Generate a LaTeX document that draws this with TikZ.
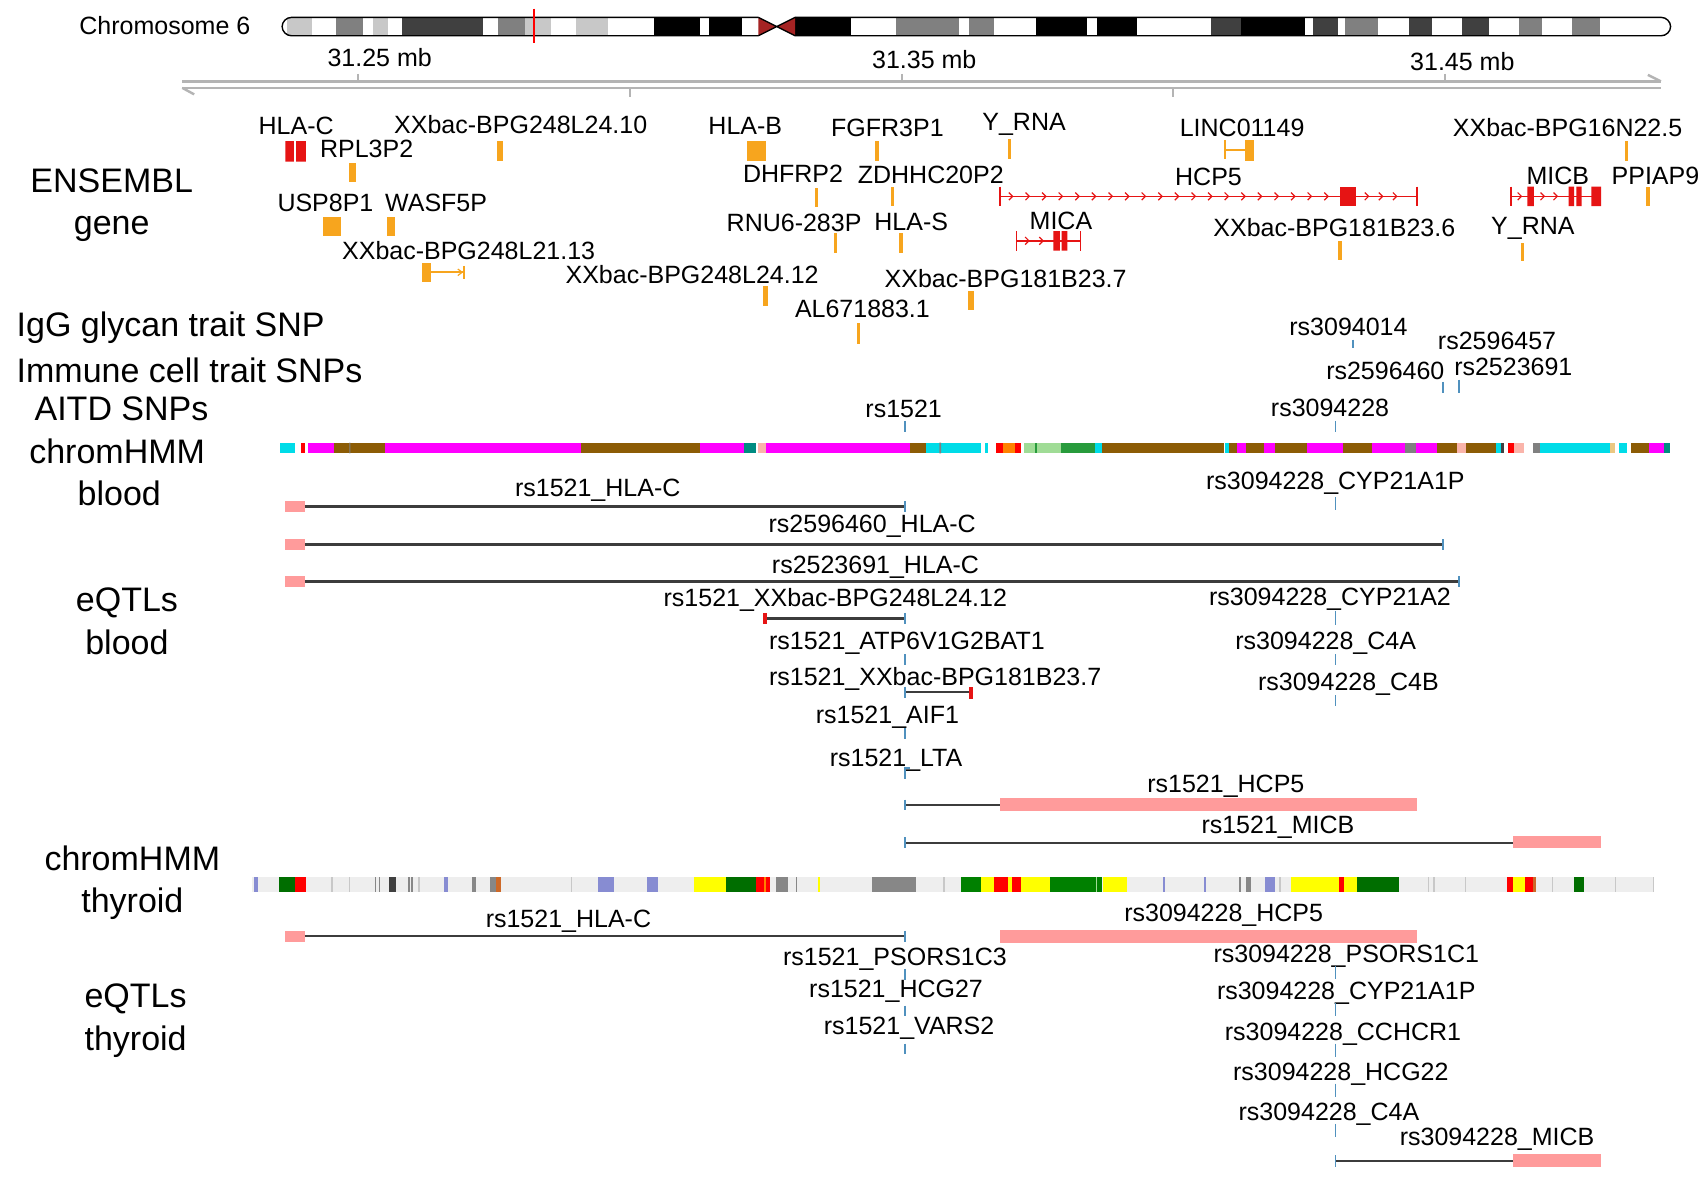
\documentclass[tikz,border=0pt]{standalone}
\usepackage{fontspec}
\setmainfont{Liberation Sans}
\definecolor{lgy}{RGB}{200,200,200}
\definecolor{mgy}{RGB}{128,128,128}
\definecolor{dgy}{RGB}{64,64,64}
\definecolor{cen}{RGB}{165,35,35}
\definecolor{axg}{RGB}{180,180,180}
\definecolor{ora}{RGB}{247,165,30}
\definecolor{rg}{RGB}{230,20,20}
\definecolor{pnk}{RGB}{255,155,155}
\definecolor{snpb}{RGB}{80,145,190}
\definecolor{eql}{RGB}{60,60,60}
\definecolor{cy}{RGB}{0,220,232}
\definecolor{mg}{RGB}{255,0,255}
\definecolor{br}{RGB}{140,92,5}
\definecolor{tl}{RGB}{0,140,130}
\definecolor{lgn}{RGB}{160,220,150}
\definecolor{gn}{RGB}{40,155,60}
\definecolor{orn}{RGB}{255,130,0}
\definecolor{pkl}{RGB}{250,180,170}
\definecolor{tan}{RGB}{235,200,130}
\definecolor{thbg}{RGB}{238,238,238}
\definecolor{pu}{RGB}{135,140,210}
\definecolor{dgn}{RGB}{0,110,0}
\definecolor{gnt}{RGB}{0,128,0}
\definecolor{ye}{RGB}{255,255,0}
\definecolor{gyt}{RGB}{135,135,135}
\definecolor{obr}{RGB}{205,105,40}
\definecolor{rdc}{RGB}{255,0,0}
\begin{document}
\begin{tikzpicture}[x=0.5424pt,y=-0.5424pt,
  lab/.style={font=\fontsize{12.5}{14}\selectfont, inner sep=0pt, text height=8.95pt, text depth=0pt},
  big/.style={font=\fontsize{17}{19}\selectfont, inner sep=0pt, anchor=base},
  snp/.style={draw=snpb, line width=0.8pt},
  eqline/.style={draw=eql, line width=1.2pt},
  rgl/.style={draw=rg, line width=0.8pt},
  chev/.style={draw=rg, line width=0.6pt}]
\useasboundingbox (0,0) rectangle (1568,1091);
\fill[white] (0,0) rectangle (1568,1091);

% ---------- chromosome ideogram ----------
\node[lab] (chr) at (152,24) {Chromosome 6};
\begin{scope}
\clip[rounded corners=4.8pt] (260,16) rectangle (1540,33);
\foreach \a/\b/\c in {265/288/lgy, 310/335/mgy, 344/358/lgy, 371/445/dgy, 459/484/mgy, 484/508/lgy, 531/560/lgy, 603/645/black, 654/684/black, 733/784/black, 826/884/mgy, 893/916/mgy, 955/1002/black, 1011/1048/black, 1116/1144/dgy, 1144/1203/black, 1210/1233/dgy, 1240/1270/mgy, 1299/1320/dgy, 1348/1373/dgy, 1400/1421/mgy, 1449/1475/mgy}
  \fill[\c] (\a,16) rectangle (\b,33);
\end{scope}
\fill[cen] (699,16) -- (716,24.5) -- (699,33) -- cycle;
\fill[cen] (733,16) -- (716,24.5) -- (733,33) -- cycle;
\draw[line width=0.7pt, rounded corners=4.8pt] (699,16) -- (260,16) -- (260,33) -- (699,33);
\draw[line width=0.7pt, rounded corners=4.8pt] (733,16) -- (1540,16) -- (1540,33) -- (733,33);
\draw[line width=0.7pt] (699,16) -- (716,24.5) -- (699,33) (733,16) -- (716,24.5) -- (733,33);
\draw[rdc, line width=1.2pt] (492,8) -- (492,40);

% ---------- axis ----------
\draw[axg, line width=1.2pt] (168,75) -- (1531,75) (168,81) -- (1531,81);
\draw[axg, line width=1.2pt] (168,81) -- (179,87) (1531,75) -- (1519,69);
\draw[axg, line width=1pt] (330,68) -- (330,75) (831,68) -- (831,75) (1332,68) -- (1332,75)
  (581,81) -- (581,89) (1081,81) -- (1081,89);
\node[lab] (m1) at (350,53) {31.25 mb};
\node[lab] (m2) at (852,55) {31.35 mb};
\node[lab] (m3) at (1348,57) {31.45 mb};

% ---------- left track labels ----------
\node[big] (L1) at (103,177) {ENSEMBL};
\node[big] (L2) at (103,216) {gene};
\node[big, anchor=base west] (L3) at (15,310) {IgG glycan trait SNP};
\node[big, anchor=base west] (L4) at (15,353) {Immune cell trait SNPs};
\node[big] (L5) at (112,388) {AITD SNPs};
\node[big] (L6) at (108,427) {chromHMM};
\node[big] (L7) at (110,466) {blood};
\node[big] (L8) at (117,564) {eQTLs};
\node[big] (L9) at (117,603) {blood};
\node[big] (L10) at (122,802) {chromHMM};
\node[big] (L11) at (122,841) {thyroid};
\node[big] (L12) at (125,929) {eQTLs};
\node[big] (L13) at (125,968) {thyroid};

% ---------- ENSEMBL genes ----------
\node[lab] (g1) at (273,116) {HLA-C};
\fill[rg] (263,130) rectangle (271,149) (273,130) rectangle (282,149);
\node[lab] (g2) at (338,137) {RPL3P2};
\fill[ora] (322,150) rectangle (328,168);
\node[lab] (g3) at (480,115) {XXbac-BPG248L24.10};
\fill[ora] (458,130) rectangle (464,148);
\node[lab] (g4) at (300,187) {USP8P1};
\fill[ora] (298,200) rectangle (314,218);
\node[lab] (g5) at (402,187) {WASF5P};
\fill[ora] (357,200) rectangle (364,218);
\node[lab] (g6) at (432,231) {XXbac-BPG248L21.13};
\fill[ora] (389,242) rectangle (397,260);
\draw[ora, line width=1pt] (397,251) -- (428,251) (428,245) -- (428,257);
\draw[ora, line width=0.6pt] (422,248) -- (426,251) -- (422,254);
\node[lab] (g7) at (638,253) {XXbac-BPG248L24.12};
\fill[ora] (703,264) rectangle (708,282);
\node[lab] (g8) at (687,116) {HLA-B};
\fill[ora] (689,130) rectangle (706,148);
\node[lab] (g9) at (731,160) {DHFRP2};
\fill[ora] (751,173) rectangle (754,191);
\node[lab] (g10) at (732,205) {RNU6-283P};
\fill[ora] (769,215) rectangle (772,233);
\node[lab] (g11) at (795,284) {AL671883.1};
\fill[ora] (790,298) rectangle (793,317);
\node[lab] (g12) at (818,118) {FGFR3P1};
\fill[ora] (807,130) rectangle (810,148);
\node[lab] (g13) at (858,161) {ZDHHC20P2};
\fill[ora] (821,172) rectangle (824,190);
\node[lab] (g14) at (840,204) {HLA-S};
\fill[ora] (829,215) rectangle (832,233);
\node[lab] (g15) at (927,257) {XXbac-BPG181B23.7};
\fill[ora] (892,268) rectangle (898,286);
\node[lab] (g16) at (944,112) {Y\_RNA};
\fill[ora] (929,128) rectangle (932,147);
% HCP5
\node[lab] (g17) at (1114,163) {HCP5};
\draw[rgl] (922,181) -- (1306,181) (922,172) -- (922,190) (1306,172) -- (1306,190);
\foreach \x in {932,947.3,...,1225} \draw[chev] (\x-2,177.5) -- (\x+1.5,181) -- (\x-2,184.5);
\foreach \x in {1260,1273,1286} \draw[chev] (\x-2,177.5) -- (\x+1.5,181) -- (\x-2,184.5);
\fill[rg] (1235,172) rectangle (1250,190);
% MICA
\node[lab] (g18) at (978,203) {MICA};
\draw[rgl] (937,222) -- (996,222) (937,213) -- (937,231) (996,213) -- (996,231);
\foreach \x in {947,960} \draw[chev] (\x-2,218.5) -- (\x+1.5,222) -- (\x-2,225.5);
\fill[rg] (971,213) rectangle (977,231) (978.5,213) rectangle (984,231);
% LINC01149
\node[lab] (g19) at (1145,118) {LINC01149};
\draw[ora, line width=1pt] (1129,138) -- (1149,138) (1129,129) -- (1129,147);
\fill[ora] (1148,129) rectangle (1156,148);
\node[lab] (g20) at (1230,210) {XXbac-BPG181B23.6};
\fill[ora] (1233,222) rectangle (1237,240);
\node[lab] (g21) at (1445,118) {XXbac-BPG16N22.5};
\fill[ora] (1498,130) rectangle (1501,148);
% MICB
\node[lab] (g22) at (1436,162) {MICB};
\draw[rgl] (1393,181) -- (1476,181) (1393,172) -- (1393,190);
\foreach \x in {1401,1422,1434} \draw[chev] (\x-2,177.5) -- (\x+1.5,181) -- (\x-2,184.5);
\fill[rg] (1408,172) rectangle (1414,190) (1446,172) rectangle (1451,190) (1453,172) rectangle (1458,190) (1467,172) rectangle (1476,190);
\node[lab] (g23) at (1526,162) {PPIAP9};
\fill[ora] (1517,172) rectangle (1521,190);
\node[lab] (g24) at (1413,208) {Y\_RNA};
\fill[ora] (1402,224) rectangle (1405,241);

% ---------- SNP tracks ----------
\node[lab] (s1) at (1243,301) {rs3094014};
\draw[snp] (1247,313) -- (1247,321);
\node[lab] (s2) at (1380,314) {rs2596457};
\node[lab] (s3) at (1277,342) {rs2596460};
\draw[snp] (1330,352) -- (1330,362);
\node[lab] (s4) at (1395,338) {rs2523691};
\draw[snp] (1345,350) -- (1345,362);
\node[lab] (s5) at (833,377) {rs1521};
\draw[snp] (834,388) -- (834,398);
\node[lab] (s6) at (1226,376) {rs3094228};
\draw[snp] (1231,388) -- (1231,398);

% ---------- chromHMM blood ----------
\foreach \a/\b/\c in {258/272/cy, 277/281/rdc, 284/308/mg, 308/355/br, 355/536/mg, 536/645/br, 645/686/mg, 686/697/tl, 699/706/pkl, 706/839/mg, 839/854/br, 854/904/cy, 908/911/cy, 918/925/rdc, 925/936/orn, 936/941/rdc, 944/978/lgn, 954/956/gn, 978/1009/gn, 1009/1016/cy, 1016/1128/br, 1129/1133/cy, 1133/1140/br, 1140/1149/mg, 1149/1165/br, 1165/1175/mg, 1175/1205/br, 1205/1238/mg, 1238/1265/br, 1265/1295/mg, 1295/1305/mgy, 1305/1325/mg, 1325/1343/br, 1343/1351/pkl, 1351/1379/br, 1379/1384/cy, 1384/1386/dgy, 1390/1396/rdc, 1396/1405/pkl, 1413/1420/mgy, 1420/1484/cy, 1484/1489/tan, 1492/1500/cy, 1503/1520/br, 1520/1534/mg, 1534/1539/tl}
  \fill[\c] (\a,408) rectangle (\b,418);
\fill[mgy] (322,408) rectangle (323,418) (866,408) rectangle (867.5,418);

% ---------- eQTLs blood ----------
\node[lab] (b1) at (1231,443) {rs3094228\_CYP21A1P};
\draw[snp] (1231,458) -- (1231,470);
\node[lab] (b2) at (551,449) {rs1521\_HLA-C};
\fill[pnk] (263,462) rectangle (281,472);
\draw[eqline] (281,467) -- (834,467);
\draw[snp] (834,462) -- (834,472);
\node[lab] (b3) at (804,483) {rs2596460\_HLA-C};
\fill[pnk] (263,497) rectangle (281,507);
\draw[eqline] (281,502) -- (1330,502);
\draw[snp] (1330,497) -- (1330,507);
\node[lab] (b4) at (807,520) {rs2523691\_HLA-C};
\fill[pnk] (263,531) rectangle (281,541);
\draw[eqline] (281,536) -- (1345,536);
\draw[snp] (1345,531) -- (1345,541);
\node[lab] (b5) at (770,551) {rs1521\_XXbac-BPG248L24.12};
\draw[eqline] (705,570) -- (834,570);
\fill[rg] (703.5,565) rectangle (707,575);
\draw[snp] (834,565) -- (834,575);
\node[lab] (b6) at (1226,550) {rs3094228\_CYP21A2};
\draw[snp] (1231,563) -- (1231,576);
\node[lab] (b7) at (836,590) {rs1521\_ATP6V1G2BAT1};
\draw[snp] (834,603) -- (834,613);
\node[lab] (b8) at (1222,590) {rs3094228\_C4A};
\draw[snp] (1231,603) -- (1231,613);
\node[lab] (b9) at (862,624) {rs1521\_XXbac-BPG181B23.7};
\draw[eqline] (834,638) -- (894,638);
\fill[rg] (893,633) rectangle (897,644);
\draw[snp] (834,633) -- (834,643);
\node[lab] (b10) at (1243,628) {rs3094228\_C4B};
\draw[snp] (1231,641) -- (1231,651);
\node[lab] (b11) at (818,659) {rs1521\_AIF1};
\draw[snp] (834,671) -- (834,681);
\node[lab] (b12) at (826,698) {rs1521\_LTA};
\draw[snp] (834,718) -- (834,708) -- (839,708);
\node[lab] (b13) at (1130,722) {rs1521\_HCP5};
\draw[eqline] (834,742) -- (922,742);
\fill[pnk] (922,736) rectangle (1306,748);
\draw[snp] (834,737) -- (834,747);
\node[lab] (b14) at (1178,760) {rs1521\_MICB};
\draw[eqline] (834,777) -- (1395,777);
\fill[pnk] (1395,771) rectangle (1476,782);
\draw[snp] (834,772) -- (834,782);

% ---------- chromHMM thyroid ----------
\fill[thbg] (232,808) rectangle (1525,822);
\foreach \a/\b/\c in {234/238/pu, 257/272/dgn, 272/282/rdc, 359/365/dgy, 409/413/pu, 435/439/gyt, 452/457/gyt, 457/462/obr, 551/566/pu, 596/607/pu, 640/669/ye, 669/697/dgn, 697/704/rdc, 704/706/orn, 706/710/rdc, 715/726/gyt, 804/844/gyt, 886/904/gnt, 904/916/ye, 916/929/rdc, 929/933/ye, 933/941/rdc, 941/968/ye, 968/1016/gnt, 1017/1039/ye, 1166/1175/pu, 1149/1153/gyt, 1190/1234/ye, 1234/1239/rdc, 1239/1251/ye, 1251/1290/dgn, 1389/1395/rdc, 1395/1406/ye, 1406/1413/rdc, 1413/1416/obr, 1451/1460/dgn}
  \fill[\c] (\a,808) rectangle (\b,822);
\foreach \x/\c in {306/lgy, 322/lgy, 346/gyt, 350/gyt, 377/gyt, 380/gyt, 386/lgy, 527/lgy, 734/gyt, 755/ye, 870/lgy, 1073/pu, 1111/pu, 1143/gyt, 1180/lgy, 1317/lgy, 1322/lgy, 1351/lgy, 1431/lgy, 1489/lgy, 1524/lgy}
  \fill[\c] (\x-0.7,808) rectangle (\x+0.7,822);
\fill[lgn] (1010,808) rectangle (1011.5,822);

% ---------- eQTLs thyroid ----------
\node[lab] (t1) at (524,847) {rs1521\_HLA-C};
\fill[pnk] (263,858) rectangle (281,868);
\draw[eqline] (281,863) -- (834,863);
\draw[snp] (834,858) -- (834,868);
\node[lab] (t2) at (1128,841) {rs3094228\_HCP5};
\fill[pnk] (922,857) rectangle (1306,869);
\node[lab] (t3) at (825,882) {rs1521\_PSORS1C3};
\draw[snp] (834,893) -- (834,903);
\node[lab] (t4) at (826,911) {rs1521\_HCG27};
\draw[snp] (834,927) -- (834,937);
\node[lab] (t5) at (838,945) {rs1521\_VARS2};
\draw[snp] (834,962) -- (834,972);
\node[lab] (t6) at (1241,879) {rs3094228\_PSORS1C1};
\draw[snp] (1231,890) -- (1231,902);
\node[lab] (t7) at (1241,913) {rs3094228\_CYP21A1P};
\draw[snp] (1231,925) -- (1231,937);
\node[lab] (t8) at (1238,951) {rs3094228\_CCHCR1};
\draw[snp] (1231,962) -- (1231,974);
\node[lab] (t9) at (1236,988) {rs3094228\_HCG22};
\draw[snp] (1231,999) -- (1231,1011);
\node[lab] (t10) at (1225,1025) {rs3094228\_C4A};
\draw[snp] (1231,1036) -- (1231,1048);
\node[lab] (t11) at (1380,1048) {rs3094228\_MICB};
\draw[eqline] (1231,1070) -- (1395,1070);
\fill[pnk] (1395,1064) rectangle (1476,1076);
\draw[snp] (1231,1065) -- (1231,1076);
\end{tikzpicture}
\end{document}
